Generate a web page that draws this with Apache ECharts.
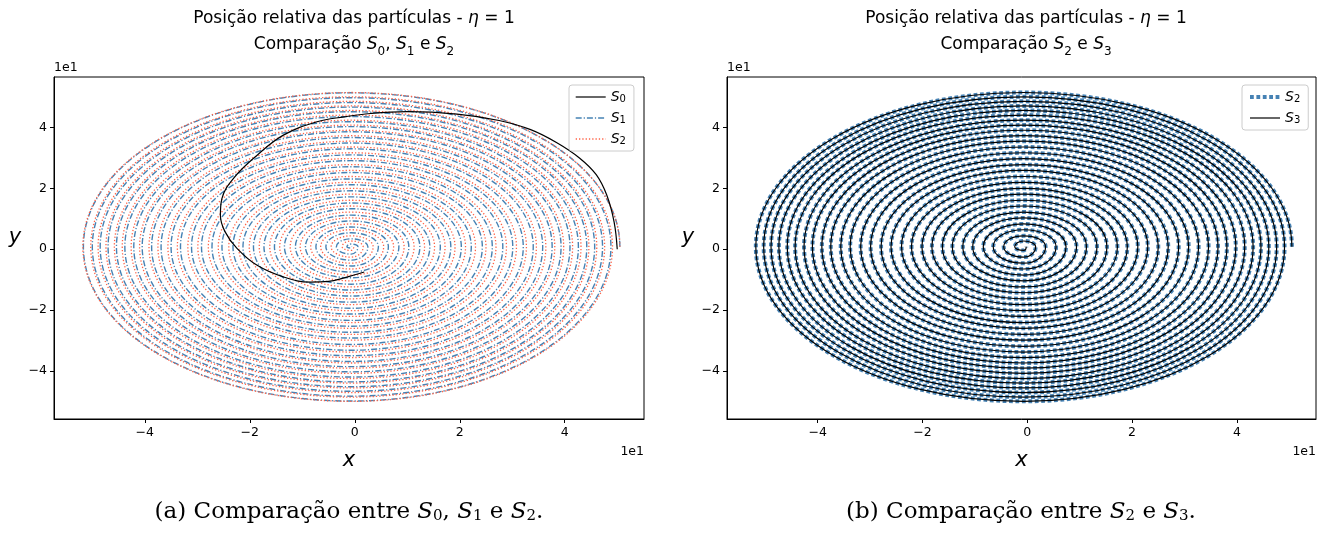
<!DOCTYPE html>
<html><head><meta charset="utf-8">
<script src="https://cdn.jsdelivr.net/npm/echarts@6/dist/echarts.min.js"></script>
<style>html,body{margin:0;padding:0;background:#fff}#c{width:1329px;height:538px}</style>
</head><body><div id="c"></div>
<script>
// ---- tick labels (data units; labels shown divided by 1e1) ----
const tickValues = [-40, -20, 0, 20, 40];

// ---- spiral readings: extreme of each turn (right, top, left, bottom) ----
const spiralCentreX = -0.7;
const spiralCentreY = 0.8;

const s2RightX  = [50.5, 49.1, 47.6, 46.1, 44.6, 43.1, 41.5, 39.8, 38.1, 36.4, 34.6, 32.7, 30.8, 28.9, 26.9, 25.0, 23.0, 21.1, 19.1, 17.2, 15.2, 13.3, 11.3, 9.4, 7.4, 5.5, 3.5, 1.6, -0.2];
const s2TopY    = [51.5, 50.1, 48.6, 47.1, 45.6, 44.1, 42.4, 40.8, 39.1, 37.3, 35.5, 33.6, 31.7, 29.8, 27.8, 25.9, 23.9, 22.0, 20.0, 18.1, 16.1, 14.2, 12.2, 10.3, 8.3, 6.4, 4.4, 2.7];
const s2LeftX   = [-51.8, -50.3, -48.9, -47.4, -45.8, -44.3, -42.6, -41.0, -39.2, -37.5, -35.6, -33.8, -31.8, -29.9, -27.9, -26.0, -24.0, -22.1, -20.1, -18.2, -16.2, -14.3, -12.3, -10.4, -8.4, -6.5, -4.5, -2.4];
const s2BottomY = [-50.0, -48.6, -47.1, -45.6, -44.0, -42.5, -40.8, -39.1, -37.4, -35.6, -33.8, -31.9, -29.9, -28.0, -26.0, -24.1, -22.1, -20.2, -18.2, -16.3, -14.3, -12.4, -10.4, -8.5, -6.5, -4.6, -2.6, -0.4];

const s1RightX  = [50.5, 48.8, 47.2, 45.7, 44.2, 42.6, 41.0, 39.3, 37.6, 35.8, 34.0, 32.1, 30.1, 28.2, 26.2, 24.3, 22.2, 20.3, 18.3, 16.3, 14.3, 12.4, 10.3, 8.4, 6.4, 4.5, 2.5, 0.6, -0.6];
const s1TopY    = [51.4, 49.8, 48.2, 46.7, 45.2, 43.6, 41.9, 40.3, 38.6, 36.7, 34.9, 33.0, 31.0, 29.1, 27.1, 25.2, 23.1, 21.2, 19.2, 17.2, 15.2, 13.3, 11.2, 9.3, 7.3, 5.4, 3.4, 1.7];
const s1LeftX   = [-51.7, -50.0, -48.5, -47.0, -45.4, -43.8, -42.1, -40.5, -38.7, -36.9, -35.0, -33.2, -31.1, -29.2, -27.2, -25.3, -23.2, -21.3, -19.3, -17.3, -15.3, -13.4, -11.3, -9.4, -7.4, -5.5, -3.5, -1.5];
const s1BottomY = [-49.9, -48.3, -46.7, -45.2, -43.6, -42.0, -40.3, -38.6, -36.9, -35.0, -33.2, -31.3, -29.2, -27.3, -25.3, -23.4, -21.3, -19.4, -17.4, -15.4, -13.4, -11.5, -9.4, -7.5, -5.5, -3.6, -1.6, 0.4];

const s3RightX  = [50.5, 49.1, 47.6, 46.1, 44.6, 43.1, 41.5, 39.8, 38.1, 36.4, 34.6, 32.7, 30.8, 28.9, 26.9, 25.0, 23.0, 21.1, 19.1, 17.2, 15.2, 13.3, 11.3, 9.4, 7.4, 5.5, 3.5, 1.6, -0.2];
const s3TopY    = [51.5, 50.1, 48.6, 47.1, 45.6, 44.1, 42.4, 40.8, 39.1, 37.3, 35.5, 33.6, 31.7, 29.8, 27.8, 25.9, 23.9, 22.0, 20.0, 18.1, 16.1, 14.2, 12.2, 10.3, 8.3, 6.4, 4.4, 2.7];
const s3LeftX   = [-51.8, -50.3, -48.9, -47.4, -45.8, -44.3, -42.6, -41.0, -39.2, -37.5, -35.6, -33.8, -31.8, -29.9, -27.9, -26.0, -24.0, -22.1, -20.1, -18.2, -16.2, -14.3, -12.3, -10.4, -8.4, -6.5, -4.5, -2.4];
const s3BottomY = [-50.0, -48.6, -47.1, -45.6, -44.0, -42.5, -40.8, -39.1, -37.4, -35.6, -33.8, -31.9, -29.9, -28.0, -26.0, -24.1, -22.1, -20.2, -18.2, -16.3, -14.3, -12.4, -10.4, -8.5, -6.5, -4.6, -2.6, -0.4];

// ---- S0 read along its path ----
const s0X = [50.0, 49.4, 48.0, 46.0, 42.8, 38.5, 33.5, 27.5, 19.5, 9.9, 3.0, -2.0, -7.2, -13.6, -18.6, -23.1, -25.3, -25.6, -24.7, -22.4, -18.6, -13.6, -8.5, -5.0, -2.0, 1.8];
const s0Y = [0.0, 9.0, 17.8, 24.5, 30.0, 35.0, 39.3, 42.3, 44.4, 45.2, 44.6, 43.5, 41.9, 37.5, 30.9, 23.3, 16.7, 11.2, 5.7, 0.2, -5.3, -9.1, -10.8, -10.6, -9.4, -7.5];

// quarter-turn points in drawing order: right, top, left, bottom, right, ...
function spiralPoints(rightX, topY, leftX, bottomY) {
  const pts = [];
  for (let k = 0; k < topY.length; k++) {
    pts.push([rightX[k], spiralCentreY]);
    pts.push([spiralCentreX, topY[k]]);
    pts.push([leftX[k], spiralCentreY]);
    pts.push([spiralCentreX, bottomY[k]]);
  }
  if (rightX.length > topY.length) pts.push([rightX[topY.length], spiralCentreY]);
  return pts;
}
const s1Pts = spiralPoints(s1RightX, s1TopY, s1LeftX, s1BottomY);
const s2Pts = spiralPoints(s2RightX, s2TopY, s2LeftX, s2BottomY);
const s3Pts = spiralPoints(s3RightX, s3TopY, s3LeftX, s3BottomY);

// quarter arcs between the read extremes (elliptic bezier)
const K = 0.5523;
function spiralRenderer(pts, style) {
  return function (params, api) {
    if (params.dataIndex !== 0) return null;
    const p = pts.map(v => api.coord(v));
    let d = 'M' + p[0][0].toFixed(2) + ' ' + p[0][1].toFixed(2);
    for (let i = 0; i + 1 < p.length; i++) {
      const a = p[i], b = p[i + 1];
      let c1, c2;
      if (i % 2 === 0) { // side -> apex
        c1 = [a[0], a[1] + K * (b[1] - a[1])];
        c2 = [b[0] + K * (a[0] - b[0]), b[1]];
      } else {           // apex -> side
        c1 = [a[0] + K * (b[0] - a[0]), a[1]];
        c2 = [b[0], b[1] + K * (a[1] - b[1])];
      }
      d += ' C' + c1[0].toFixed(2) + ' ' + c1[1].toFixed(2) + ' ' + c2[0].toFixed(2) + ' ' + c2[1].toFixed(2) + ' ' + b[0].toFixed(2) + ' ' + b[1].toFixed(2);
    }
    return { type: 'path', shape: { pathData: d }, style: Object.assign({ fill: null }, style), silent: true };
  };
}

const FONT = 'DejaVu Sans';
const fmt = v => { const t = v / 10; return t < 0 ? '\u2212' + Math.abs(t) : String(t); };

function xAxisFor(gi) {
  return {
    type: 'value', gridIndex: gi, min: -57.3, max: 55.1,
    name: 'x', nameLocation: 'middle', nameGap: 31,
    nameTextStyle: { fontFamily: FONT, fontStyle: 'italic', fontSize: 21, color: '#000' },
    axisLine: { show: true, onZero: false, lineStyle: { color: '#000', width: 1 } },
    axisTick: { show: true, length: 4, customValues: tickValues, lineStyle: { color: '#000' } },
    axisLabel: { customValues: tickValues, formatter: fmt, fontFamily: FONT, fontSize: 12.5, color: '#000', margin: 7 },
    splitLine: { show: false }
  };
}
function yAxisFor(gi) {
  return {
    type: 'value', gridIndex: gi, min: -55.8, max: 56.6,
    axisLine: { show: true, onZero: false, lineStyle: { color: '#000', width: 1 } },
    axisTick: { show: true, length: 4, customValues: tickValues, lineStyle: { color: '#000' } },
    axisLabel: { customValues: tickValues, formatter: fmt, fontFamily: FONT, fontSize: 12.5, color: '#000', margin: 7 },
    splitLine: { show: false }
  };
}

const richTitle = {
  it: { fontFamily: FONT, fontStyle: 'italic', fontSize: 17, color: '#000' },
  sub: { fontFamily: FONT, fontSize: 12, color: '#000', verticalAlign: 'bottom', lineHeight: 12 }
};
const richLegend = {
  it: { fontFamily: FONT, fontStyle: 'italic', fontSize: 14, color: '#000' },
  sub: { fontFamily: FONT, fontSize: 10, color: '#000', verticalAlign: 'bottom', lineHeight: 10 }
};
const legendFmt = name => '{it|S}{sub|' + name.charAt(1) + '}';

const titleBase = {
  textAlign: 'center', top: 1,
  textStyle: { fontFamily: FONT, fontSize: 17, fontWeight: 'normal', color: '#000', lineHeight: 26, rich: richTitle }
};
const legendBase = {
  orient: 'vertical', itemWidth: 30, itemHeight: 13, itemGap: 7, top: 85,
  padding: [5, 8, 5, 6], borderColor: '#ccc', borderWidth: 1, borderRadius: 3, backgroundColor: 'rgba(255,255,255,0.8)',
  formatter: legendFmt, textStyle: { rich: richLegend }, selectedMode: false,
  itemStyle: { opacity: 0 }
};
const capRich = { it: { fontFamily: 'DejaVu Serif', fontStyle: 'italic', fontSize: 23 }, s: { fontFamily: 'DejaVu Serif', fontSize: 15, verticalAlign: 'bottom', lineHeight: 14 } };

const styleS1 = { stroke: '#4682B4', lineWidth: 1.4, lineDash: [6, 2, 1.2, 2] };
const styleS2 = { stroke: '#FF6347', lineWidth: 1.3, lineDash: [1.3, 2] };
const styleS2b = { stroke: '#4682B4', lineWidth: 4, lineDash: [3.8, 2.6] };
const styleS3 = { stroke: '#000', lineWidth: 1.2 };

function legendItem(name, st) {
  return { name, lineStyle: { color: st.stroke, width: st.lineWidth, type: st.lineDash || 'solid' } };
}
function legendLine(name, xi, st) {
  return { name, type: 'line', xAxisIndex: xi, yAxisIndex: xi, symbol: 'none', data: [],
    lineStyle: { color: st.stroke, width: st.lineWidth, type: st.lineDash || 'solid' }, itemStyle: { color: st.stroke } };
}
function spiralSeries(name, xi, pts, st) {
  return { name, type: 'custom', coordinateSystem: 'cartesian2d', xAxisIndex: xi, yAxisIndex: xi, clip: true, silent: true,
    data: pts, renderItem: spiralRenderer(pts, st) };
}
const yName = (x) => ({ type: 'text', x, y: 238, style: { text: 'y', align: 'center', verticalAlign: 'middle', textAlign: 'center', textVerticalAlign: 'middle',
  font: 'italic 21px "DejaVu Sans"', fill: '#000' } });

const option = {
  backgroundColor: '#fff',
  animation: false,
  title: [
    Object.assign({}, titleBase, { left: 349, text: 'Posição relativa das partículas - {it|η} = 1\nComparação {it|S}{sub|0}, {it|S}{sub|1} e {it|S}{sub|2}' }),
    Object.assign({}, titleBase, { left: 1021, text: 'Posição relativa das partículas - {it|η} = 1\nComparação {it|S}{sub|2} e {it|S}{sub|3}' })
  ],
  grid: [
    { left: 54, top: 77, width: 590, height: 342, show: true, borderColor: '#000', borderWidth: 1, containLabel: false },
    { left: 727, top: 77, width: 589, height: 342, show: true, borderColor: '#000', borderWidth: 1, containLabel: false }
  ],
  xAxis: [xAxisFor(0), xAxisFor(1)],
  yAxis: [yAxisFor(0), yAxisFor(1)],
  legend: [
    Object.assign({}, legendBase, { data: [legendItem('S0', styleS3), legendItem('S1', styleS1), legendItem('S2', styleS2)], left: 569 }),
    Object.assign({}, legendBase, { data: [legendItem('S2b', styleS2b), legendItem('S3', styleS3)], left: 1242 })
  ],
  graphic: [
    yName(15), yName(688),
    { type: 'text', left: 54, top: 61, style: { text: '1e1', font: '12.5px "DejaVu Sans"', fill: '#000' } },
    { type: 'text', right: 1329 - 644, top: 445, style: { text: '1e1', font: '12.5px "DejaVu Sans"', fill: '#000' } },
    { type: 'text', left: 727, top: 61, style: { text: '1e1', font: '12.5px "DejaVu Sans"', fill: '#000' } },
    { type: 'text', right: 1329 - 1316, top: 445, style: { text: '1e1', font: '12.5px "DejaVu Sans"', fill: '#000' } },
    { type: 'text', x: 349, y: 512, style: { text: '(a) Comparação entre {it|S}{s|0}, {it|S}{s|1} e {it|S}{s|2}.', align: 'center', verticalAlign: 'middle',
      textAlign: 'center', textVerticalAlign: 'middle', font: '23px "DejaVu Serif"', fill: '#000', rich: capRich } },
    { type: 'text', x: 1021, y: 512, style: { text: '(b) Comparação entre {it|S}{s|2} e {it|S}{s|3}.', align: 'center', verticalAlign: 'middle',
      textAlign: 'center', textVerticalAlign: 'middle', font: '23px "DejaVu Serif"', fill: '#000', rich: capRich } }
  ],
  series: [
    legendLine('S1', 0, styleS1),
    legendLine('S2', 0, styleS2),
    legendLine('S2b', 1, styleS2b),
    legendLine('S3', 1, styleS3),
    spiralSeries('S1', 0, s1Pts, styleS1),
    spiralSeries('S2', 0, s2Pts, styleS2),
    { name: 'S0', type: 'line', xAxisIndex: 0, yAxisIndex: 0, symbol: 'none', smooth: 0.4, silent: true,
      data: s0X.map((x, i) => [x, s0Y[i]]),
      lineStyle: { color: '#000', width: 1.2 }, itemStyle: { color: '#000' } },
    spiralSeries('S2b', 1, s2Pts, styleS2b),
    spiralSeries('S3', 1, s3Pts, styleS3)
  ]
};
echarts.init(document.getElementById('c'), null, { renderer: 'canvas' }).setOption(option);
</script></body></html>
